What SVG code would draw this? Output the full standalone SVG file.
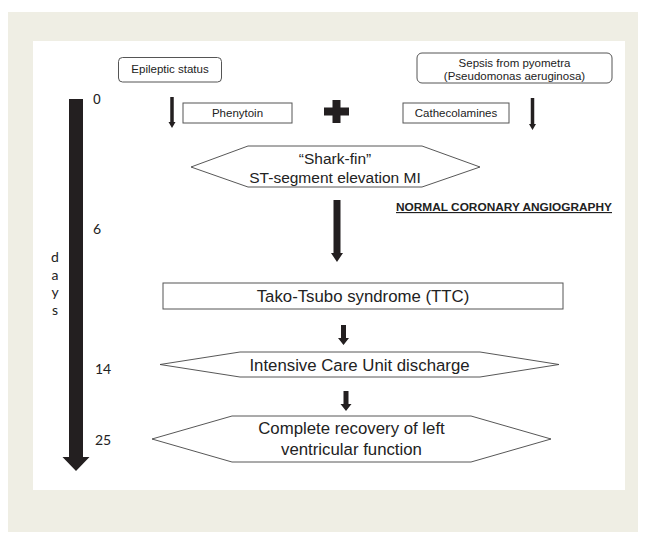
<svg xmlns="http://www.w3.org/2000/svg" width="646" height="540" viewBox="0 0 646 540">
<style>
.box{fill:#fff;stroke:#555;stroke-width:1}
.hex{fill:#fff;stroke:#444;stroke-width:0.9}
.sm{font-family:"Liberation Sans",Arial,sans-serif;font-size:11.5px;fill:#222;text-anchor:middle}
.lg{font-family:"Liberation Sans",Arial,sans-serif;font-size:16.8px;fill:#222;text-anchor:middle}
.num{font-family:Lato,"Open Sans",sans-serif;font-size:14px;fill:#222}
.arr{fill:#231f20}
</style>
<rect x="8" y="12" width="630" height="520" fill="#efeee4"/>
<rect x="33" y="41" width="592" height="449" fill="#fff"/>

<g id="timeline">
<polygon class="arr" points="69,99 83,99 83,457 89.5,457 76,471 62.5,457 69,457"/>
<text x="93" y="104" style="font-family:'Liberation Sans',Arial,sans-serif;font-size:14px;fill:#222">0</text>
<text class="num" x="93" y="234">6</text>
<text class="num" x="95" y="374">14</text>
<text class="num" x="95" y="445">25</text>
<text class="num" x="55" y="262" text-anchor="middle">d</text>
<text class="num" x="55" y="280" text-anchor="middle">a</text>
<text class="num" x="55" y="297" text-anchor="middle">y</text>
<text class="num" x="55" y="315" text-anchor="middle">s</text>
</g>

<g id="epileptic">
<rect class="box" x="118.5" y="57.5" width="103" height="24.5" rx="4"/>
<text class="sm" x="170" y="73">Epileptic status</text>
</g>
<g id="sepsis">
<rect class="box" x="417" y="53" width="195" height="30" rx="5"/>
<text class="sm" x="514.5" y="67">Sepsis from pyometra</text>
<text class="sm" x="514.5" y="80">(Pseudomonas aeruginosa)</text>
</g>
<g id="phenytoin">
<rect class="box" x="183" y="103" width="109" height="20"/>
<text class="sm" x="237.5" y="117">Phenytoin</text>
</g>
<g id="plus">
<rect class="arr" x="324" y="107.5" width="25" height="8"/>
<rect class="arr" x="332.5" y="100" width="8" height="23"/>
</g>
<g id="cathecolamines">
<rect class="box" x="403" y="103" width="106" height="20"/>
<text class="sm" x="456" y="117">Cathecolamines</text>
</g>
<g id="sharkfin">
<polygon class="hex" points="191,167 248,146 422,146 480,167 422,187 248,187"/>
<text class="lg" x="335" y="164" style="font-size:15.5px">“Shark-fin”</text>
<text class="lg" x="335" y="183" style="font-size:15.5px">ST-segment elevation MI</text>
</g>
<g id="angiography">
<text x="504" y="211" text-anchor="middle" textLength="216" lengthAdjust="spacingAndGlyphs" style="font-family:'Liberation Sans',Arial,sans-serif;font-size:11.5px;font-weight:bold;fill:#222;text-decoration:underline">NORMAL CORONARY ANGIOGRAPHY</text>
</g>
<g id="ttc">
<rect class="box" x="163" y="283" width="400" height="26"/>
<text class="lg" x="363" y="302">Tako-Tsubo syndrome (TTC)</text>
</g>
<g id="icu">
<polygon class="hex" points="160,364.5 240,352 480,352 559,364.5 480,377 240,377"/>
<text class="lg" x="359.5" y="370.5">Intensive Care Unit discharge</text>
</g>
<g id="recovery">
<polygon class="hex" points="152,439 232,416 471,416 551,439 471,462 232,462"/>
<text class="lg" x="351.5" y="434">Complete recovery of left</text>
<text class="lg" x="351.5" y="455">ventricular function</text>
</g>

<g id="connectors">
<polygon class="arr" points="170.25,97 173.75,97 173.75,122 175.5,122 172,128 168.5,122 170.25,122"/>
<polygon class="arr" points="530.75,98 534.25,98 534.25,124 536,124 532.5,130 529,124 530.75,124"/>
<polygon class="arr" points="333.5,200 340.5,200 340.5,253 343,253 337,262 331,253 333.5,253"/>
<polygon class="arr" points="341,325 346,325 346,338 349,338 343.5,345 338,338 341,338"/>
<polygon class="arr" points="343.5,391 348.5,391 348.5,404 351.5,404 346,411 340.5,404 343.5,404"/>
</g>
</svg>
